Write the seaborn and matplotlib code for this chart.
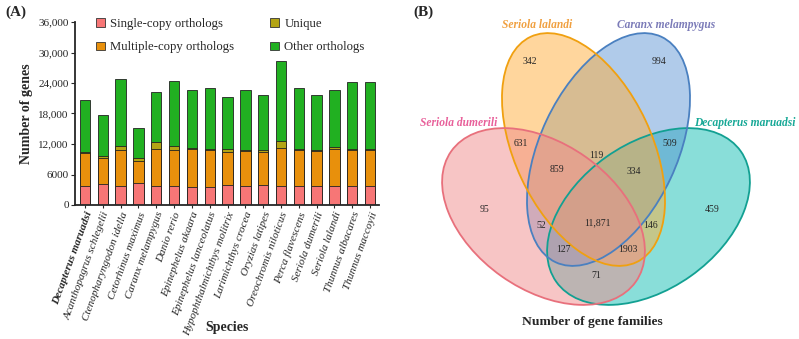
import numpy as np
import pandas as pd
import matplotlib
matplotlib.use("Agg")
import matplotlib.pyplot as plt
from matplotlib.patches import Ellipse, Patch
import seaborn as sns

# Daten Panel A (Balken)
species = ["Decapterus maruadsi", "Acanthopagrus schlegelii", "Ctenopharyngodon idella",
           "Cetorhinus maximus", "Caranx melampygus", "Danio rerio", "Epinephelus akaara",
           "Epinephelus lanceolatus", "Hypophthalmichthys molitrix", "Larimichthys crocea",
           "Oryzias latipes", "Oreochromis niloticus", "Perca flavescens", "Seriola dumerili",
           "Seriola lalandi", "Thunnus albacares", "Thunnus maccoyii"]
single = [3800, 4070, 3680, 4270, 3680, 3680, 3610, 3610, 3880, 3680, 3880, 3680, 3680, 3680, 3680, 3680, 3680]
multiple = [6500, 5260, 7220, 4400, 7360, 7160, 7360, 7160, 6500, 7030, 6630, 7620, 7090, 7030, 7420, 7160, 7160]
unique = [200, 400, 800, 660, 1310, 720, 200, 200, 590, 200, 400, 1310, 330, 130, 330, 130, 130]
other = [10200, 8020, 13130, 5780, 9850, 12880, 11360, 12090, 10320, 11620, 10640, 15640, 11960, 10710, 11240, 13140, 13140]
yticks = [0, 6000, 12000, 18000, 24000, 30000, 36000]
ytick_labels = ["0", "6000", "12,000", "18,000", "24,000", "30,000", "36,000"]

# Daten Panel B (Venn)
venn_sets = ["Seriola dumerili", "Seriola lalandi", "Caranx melampygus", "Decapterus maruadsi"]
venn_counts = ["342", "994", "631", "509", "119", "859", "334", "95", "459", "52",
               "11,871", "146", "127", "1903", "71"]

sns.set_style("ticks")
plt.rcParams['font.family'] = ['Liberation Serif', 'DejaVu Serif']

df = pd.DataFrame({'Species': species, 'single': single, 'multiple': multiple,
                   'unique': unique, 'other': other})
df['c1'] = df['single']
df['c2'] = df['c1'] + df['multiple']
df['c3'] = df['c2'] + df['unique']
df['c4'] = df['c3'] + df['other']

colors = {'Single-copy orthologs': '#f77676', 'Multiple-copy orthologs': '#e8900c',
          'Unique': '#b3a414', 'Other orthologs': '#21b021'}

fig = plt.figure(figsize=(7.99, 3.39), dpi=100)
ax = fig.add_axes([75 / 799, 134 / 339, 304 / 799, 183 / 339])

# gestapelte Balken: von oben (Summe) nach unten zeichnen
for col, lab in [('c4', 'Other orthologs'), ('c3', 'Unique'),
                 ('c2', 'Multiple-copy orthologs'), ('c1', 'Single-copy orthologs')]:
    sns.barplot(data=df, x='Species', y=col, color=colors[lab], width=0.58,
                edgecolor='#222222', linewidth=0.6, saturation=1, ax=ax)

ax.set_xlim(-0.56, 16.5)
ax.set_ylim(0, 36000)
ax.set_yticks(yticks)
ax.set_yticklabels(ytick_labels, fontsize=8)
ax.set_xticks(range(len(species)))
ax.set_xticklabels(species, rotation=70, ha='right', rotation_mode='anchor',
                   fontsize=8, style='italic')
ax.get_xticklabels()[0].set_fontweight('bold')
ax.tick_params(axis='x', length=2, pad=2)
ax.tick_params(axis='y', length=3, pad=1.5)
sns.despine(ax=ax)
for s in ['left', 'bottom']:
    ax.spines[s].set_linewidth(1.3)
ax.set_ylabel('Number of genes', fontsize=10, fontweight='bold', labelpad=4)
ax.set_xlabel('Species', fontsize=10, fontweight='bold')
ax.xaxis.set_label_coords(0.5, -0.635)

handles = [Patch(facecolor=colors[k], edgecolor='#333333', linewidth=0.6) for k in
           ['Single-copy orthologs', 'Multiple-copy orthologs', 'Unique', 'Other orthologs']]
labels = ['Single-copy orthologs', 'Multiple-copy orthologs', 'Unique', 'Other orthologs']
ax.legend(handles, labels, ncol=2, loc='upper left', bbox_to_anchor=(0.03, 1.085),
          frameon=False, fontsize=9.2, handlelength=0.7, handleheight=0.7,
          handletextpad=0.4, columnspacing=2.85, labelspacing=0.9)

fig.text(5 / 799, 1 - 12 / 339, '(A)', fontsize=11, fontweight='bold', va='center')

# Panel B: Venn-Diagramm in Pixelkoordinaten
ax2 = fig.add_axes([400 / 799, 0, 399 / 799, 1])
ax2.set_xlim(400, 799)
ax2.set_ylim(339, 0)
ax2.axis('off')

# Zeichenreihenfolge: Decapterus, Caranx, S. lalandi, S. dumerili
ellipses = [
    # center, width, height, angle, face, edge, alpha
    ((648.5, 216.5), 226, 146, -35.3, '#14beb4', '#12a092', 0.5),
    ((608.5, 149.5), 249, 137, -64.85, '#508cd2', '#4a80c0', 0.45),
    ((583.5, 149.5), 249, 137, 64.85, '#ffaf3c', '#f0a010', 0.5),
    ((543.5, 216.5), 226, 146, 35.3, '#f08c8c', '#e8707c', 0.5),
]
for c, w, h, a, fc, ec, al in ellipses:
    ax2.add_patch(Ellipse(c, w, h, angle=a, facecolor=fc, alpha=al, edgecolor='none'))
for c, w, h, a, fc, ec, al in ellipses:
    ax2.add_patch(Ellipse(c, w, h, angle=a, facecolor='none', edgecolor=ec, linewidth=1.3))

count_pos = [(530, 62), (659, 62), (521, 144), (670, 144), (596, 155), (557, 170),
             (634, 171), (485, 209), (712, 209), (541, 226), (597, 223), (651, 226),
             (563, 249), (628, 249), (596, 276)]
for (x, y), n in zip(count_pos, venn_counts):
    ax2.text(x, y, n, ha='center', va='center', fontsize=7)

set_pos = [(459, 123), (537, 25), (666, 25), (745, 123)]
set_cols = ['#e8609a', '#f0a040', '#7b7bb8', '#16a896']
for (x, y), name, col in zip(set_pos, venn_sets, set_cols):
    ax2.text(x, y, name, ha='center', va='center', fontsize=8.3, fontweight='bold',
             style='italic', color=col)

ax2.text(592, 322, 'Number of gene families', ha='center', va='center',
         fontsize=9.7, fontweight='bold')
ax2.text(413, 12, '(B)', ha='left', va='center', fontsize=11, fontweight='bold')

fig.savefig('out.png', dpi=100)
